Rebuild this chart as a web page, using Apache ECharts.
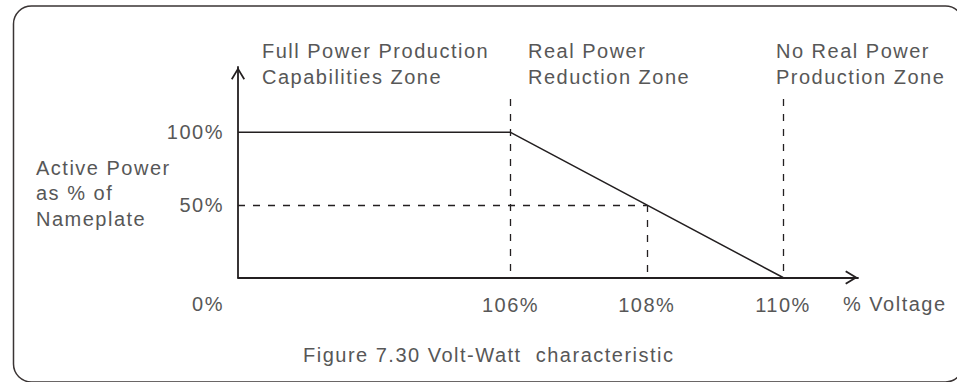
<!DOCTYPE html>
<html>
<head>
<meta charset="utf-8">
<title>Volt-Watt characteristic</title>
<script src="https://cdn.jsdelivr.net/npm/echarts@6/dist/echarts.min.js"></script>
<style>
  html, body { margin: 0; padding: 0; background: #ffffff; }
  #chart { width: 957px; height: 382px; }
  #chart text { letter-spacing: 1.5px; }
</style>
</head>
<body>
<div id="chart"></div>
<script>
// Volt-Watt curve: active power (% of nameplate) against grid voltage (% of nominal)
const voltageAxisStart = 102;            // left end of the voltage axis (origin)
const voltageAxisEnd = 111.1;            // arrow tip of the voltage axis
const powerAxisMax = 145;                // arrow tip of the power axis
const voltageTicks = [106, 108, 110];    // labelled voltages
const powerTicks = [0, 50, 100];         // labelled power levels
const curveVoltage = [voltageAxisStart, 106, 110];
const curvePower = [100, 100, 0];
const zoneBoundaries = [106, 110];       // dashed zone separators
const zoneBoundaryTop = 123;             // how far the separators rise
const halfPowerPoint = [108, 50];        // 50 % of nameplate at 108 % voltage

const zoneTitles = [
  'Full Power Production\nCapabilities Zone',
  'Real Power\nReduction Zone',
  'No Real Power\nProduction Zone'
];
const powerAxisTitle = 'Active Power\nas % of\nNameplate';
const voltageAxisTitle = '% Voltage';
const caption = 'Figure 7.30 Volt-Watt  characteristic';

const INK = '#231f20';
const TEXT = '#575757';
const FONT = '"Liberation Sans", Arial, Helvetica, sans-serif';
const ARROW = 'path://M7,0 L14,11.6 L12.5,12.6 L7,3.4 L1.5,12.6 L0,11.6 Z';

const curveData = curveVoltage.map((v, i) => [v, curvePower[i]]);

const guideSegments = zoneBoundaries.map(v => [
  { coord: [v, zoneBoundaryTop] }, { coord: [v, 0] }
]);
guideSegments.push([{ coord: [voltageAxisStart, halfPowerPoint[1]] }, { coord: halfPowerPoint.slice() }]);
guideSegments.push([{ coord: halfPowerPoint.slice() }, { coord: [halfPowerPoint[0], 0] }]);

const chart = echarts.init(document.getElementById('chart'), null, { renderer: 'svg' });

const textStyleBase = { fill: TEXT, font: '20px ' + FONT };

chart.setOption({
  animation: false,
  backgroundColor: '#ffffff',
  grid: { left: 238, right: 99, top: 67, bottom: 104.5, containLabel: false },
  xAxis: {
    type: 'value',
    min: voltageAxisStart,
    max: voltageAxisEnd,
    interval: 2,
    splitLine: { show: false },
    axisTick: { show: false },
    axisLine: {
      show: true,
      onZero: false,
      lineStyle: { color: INK, width: 1.8 },
      symbol: ['none', ARROW],
      symbolSize: [14, 13],
      symbolOffset: [0, -6.5]
    },
    axisLabel: {
      margin: 17.5,
      color: TEXT,
      fontFamily: FONT,
      fontSize: 20,
      lineHeight: 20,
      showMaxLabel: false,
      formatter: v => (voltageTicks.indexOf(v) >= 0 ? v + '%' : '')
    },
    name: voltageAxisTitle,
    nameLocation: 'end',
    nameGap: -15,
    nameMoveOverlap: false,
    nameTextStyle: {
      color: TEXT,
      fontFamily: FONT,
      fontSize: 20,
      lineHeight: 20,
      align: 'left',
      verticalAlign: 'top',
      padding: [16, 0, 0, 0]
    }
  },
  yAxis: {
    type: 'value',
    min: 0,
    max: powerAxisMax,
    interval: 50,
    splitLine: { show: false },
    axisTick: { show: false },
    axisLine: {
      show: true,
      onZero: false,
      lineStyle: { color: INK, width: 1.8 },
      symbol: ['none', ARROW],
      symbolSize: [14, 13],
      symbolOffset: [0, -6.5]
    },
    axisLabel: {
      margin: 14,
      color: TEXT,
      fontFamily: FONT,
      fontSize: 20,
      lineHeight: 26,
      showMaxLabel: false,
      formatter: v => {
        if (powerTicks.indexOf(v) < 0) return '';
        return v === 0 ? '\n\n' + v + '%' : v + '%';
      }
    }
  },
  series: [
    {
      name: 'Active power',
      type: 'line',
      data: curveData,
      symbol: 'none',
      z: 3,
      lineStyle: { color: INK, width: 1.5 },
      markLine: {
        silent: true,
        symbol: ['none', 'none'],
        label: { show: false },
        lineStyle: { color: INK, width: 1.3, type: [7, 8] },
        data: guideSegments
      }
    }
  ],
  graphic: [
    {
      type: 'rect',
      z: -1,
      shape: { x: 13.5, y: 6, width: 950, height: 376, r: 18 },
      style: { fill: 'none', stroke: '#3a3434', lineWidth: 1.5 }
    },
    {
      type: 'text', left: 262, top: 38,
      style: Object.assign({ text: zoneTitles[0], lineHeight: 26 }, textStyleBase)
    },
    {
      type: 'text', left: 528, top: 38,
      style: Object.assign({ text: zoneTitles[1], lineHeight: 26 }, textStyleBase)
    },
    {
      type: 'text', left: 776, top: 38,
      style: Object.assign({ text: zoneTitles[2], lineHeight: 26 }, textStyleBase)
    },
    {
      type: 'text', left: 36, top: 155,
      style: Object.assign({ text: powerAxisTitle, lineHeight: 25.5 }, textStyleBase)
    },
    {
      type: 'text', left: 303, top: 344,
      style: Object.assign({ text: caption, lineHeight: 22 }, textStyleBase)
    }
  ]
});
</script>
</body>
</html>
